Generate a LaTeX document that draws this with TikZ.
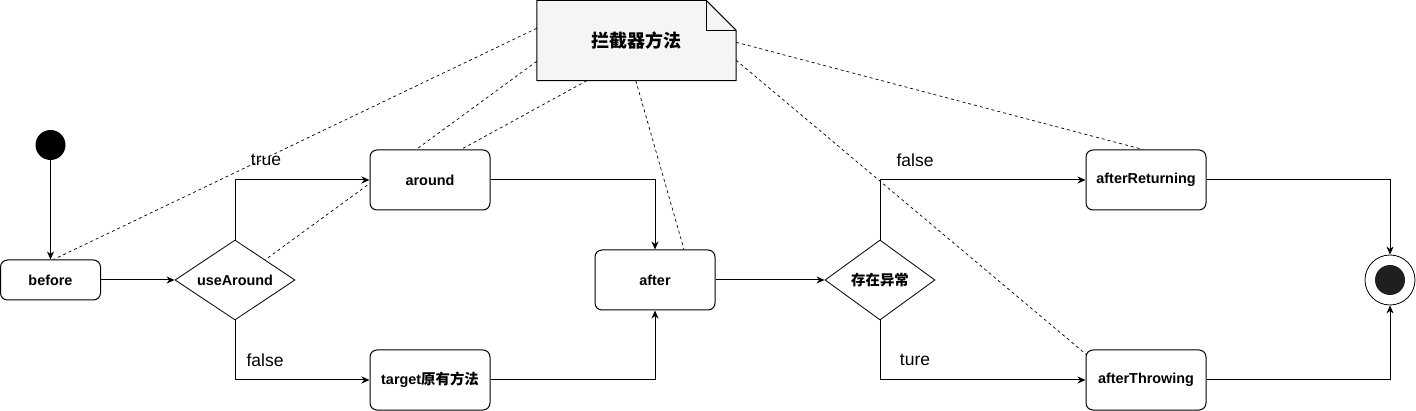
\documentclass[tikz,border=0pt]{standalone}
\usepackage{fontspec}
\setmainfont{Liberation Sans}
\newfontfamily\cjk{Noto Sans CJK SC}
\usetikzlibrary{arrows.meta,shapes.geometric,backgrounds,calc}
\begin{document}
\begin{tikzpicture}[x=1pt,y=-1pt,
  box/.style={draw, rounded corners=7pt, minimum width=120pt, minimum height=60pt, fill=white,
    font=\fontsize{14.4}{16}\selectfont\bfseries, inner sep=0pt, line width=1pt},
  dec/.style={draw, diamond, aspect=1.5, minimum width=120pt, minimum height=80pt, inner sep=0pt,
    fill=white, line width=0.8pt, font=\fontsize{14.4}{16}\selectfont\bfseries},
  flow/.style={-{Stealth[length=8pt,width=7pt,inset=2.5pt]}, line width=1pt},
  anno/.style={dash pattern=on 3pt off 3pt, line width=0.7pt},
  lbl/.style={font=\fontsize{17.5}{20}\selectfont, inner sep=0pt}
]
\useasboundingbox (0,0) rectangle (1416,411);

% nodes
\node[circle, fill=black, minimum size=30pt, inner sep=0pt] (start) at (50.5,145) {};
\node[box, minimum width=100pt, minimum height=40pt] (before) at (50.5,280) {before};
\node[dec] (use) at (235,280) {useAround};
\node[box] (around) at (430,180) {around};
\node[box] (target) at (430,380) {target{\cjk 原有方法}};
\node[box] (after) at (655,280) {after};
\node[dec, minimum width=110pt] (exc) at (880,280) {\cjk 存在异常};
\node[box] (ret) at (1146,180) {afterReturning};
\node[box] (thr) at (1146,380) {afterThrowing};
\node[circle, draw, minimum size=50pt, inner sep=0pt, line width=0.8pt] (end) at (1390,280) {};
\node[circle, fill=black!88, minimum size=30pt, inner sep=0pt] (endin) at (end.center) {};
\node[minimum width=199pt, minimum height=80pt, inner sep=0pt,
  font=\cjk\fontsize{18}{20}\selectfont\bfseries] (note) at (636.5,40.5) {拦截器方法};

\begin{pgfonlayer}{background}
  \draw[fill=black!4, line width=1pt] (note.north west) -- ($(note.north east)+(-30,0)$)
    -- ($(note.north east)+(0,30)$) -- (note.south east) -- (note.south west) -- cycle;
  \draw[line width=0.8pt] ($(note.north east)+(-30,0)$) -- ($(note.north east)+(-30,30)$)
    -- ($(note.north east)+(0,30)$);
  \draw[anno] ($(note.north west)+(0,28)$) -- ($(before.north)+(3,0)$);
  \draw[anno] ($(note.north west)+(0,61)$) -- (use.north east);
  \draw[anno] ($(note.south west)+(50,0)$) -- ($(around.north)+(31,0)$);
  \draw[anno] ($(note.south west)+(99,0)$) -- ($(after.north)+(29,0)$);
  \draw[anno] ($(note.north east)+(0,42)$) -- ($(ret.north)+(-3,0)$);
  \draw[anno] ($(note.north east)+(0,60)$) -- ($(thr.north west)+(2,6)$);
\end{pgfonlayer}

% connectors
\draw[flow] (start) -- (before);
\draw[flow] (before) -- (use);
\draw[flow] (use.north) |- (around.west);
\draw[flow] (use.south) |- (target.west);
\draw[flow] (around.east) -| (after.north);
\draw[flow] (target.east) -| (after.south);
\draw[flow] (after) -- (exc);
\draw[flow] (exc.north) |- (ret.west);
\draw[flow] (exc.south) |- (thr.west);
\draw[flow] (ret.east) -| (end.north);
\draw[flow] (thr.east) -| (end.south);

% labels
\node[lbl] (t1) at (266,160) {true};
\node[lbl] (f1) at (265,360) {false};
\node[lbl] (f2) at (915,160) {false};
\node[lbl] (t2) at (915,360) {ture};
\end{tikzpicture}
\end{document}
